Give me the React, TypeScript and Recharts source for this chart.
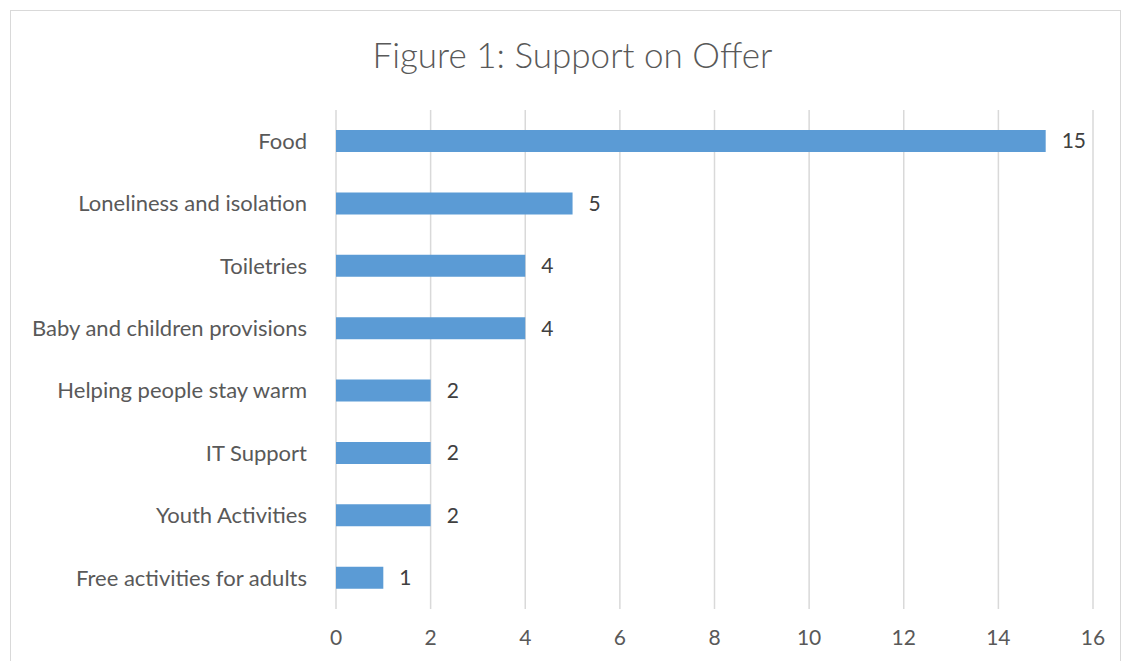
import { Bar, BarChart, CartesianGrid, LabelList, XAxis, YAxis } from 'recharts';

const categories = [
  'Food',
  'Loneliness and isolation',
  'Toiletries',
  'Baby and children provisions',
  'Helping people stay warm',
  'IT Support',
  'Youth Activities',
  'Free activities for adults',
];
const supportCounts = [15, 5, 4, 4, 2, 2, 2, 1];
const xTicks = [0, 2, 4, 6, 8, 10, 12, 14, 16];

const chartData = categories.map((name, i) => ({ name, count: supportCounts[i] }));

const FONT = 'Lato, "Liberation Sans", sans-serif';

export default function App() {
  return (
    <div
      style={{
        position: 'fixed',
        left: 10,
        top: 10,
        width: 1111,
        height: 660,
        border: '1px solid #d9d9d9',
        boxSizing: 'border-box',
        fontFamily: FONT,
        background: '#fff',
      }}
    >
      <div
        style={{
          position: 'absolute',
          top: 22,
          left: 0,
          width: '100%',
          textAlign: 'center',
          paddingLeft: 14,
          boxSizing: 'border-box',
          fontSize: 35,
          fontWeight: 300,
          color: '#595959',
        }}
      >
        Figure 1: Support on Offer
      </div>
      <div style={{ position: 'absolute', top: 0, left: 0 }}>
        <BarChart
          width={1109}
          height={648}
          data={chartData}
          layout="vertical"
          margin={{ top: 99, right: 27, left: 0, bottom: 0 }}
        >
          <CartesianGrid horizontal={false} stroke="#d9d9d9" strokeWidth={1.5} />
          <XAxis
            type="number"
            domain={[0, 16]}
            ticks={xTicks}
            height={50}
            axisLine={false}
            tickLine={false}
            tickMargin={15}
            tick={{ fontSize: 21, fill: '#595959', fontFamily: FONT }}
          />
          <YAxis
            dataKey="name"
            type="category"
            width={325}
            axisLine={false}
            tickLine={false}
            tickMargin={23}
            tick={{ fontSize: 22, fill: '#595959', fontFamily: FONT }}
          />
          <Bar dataKey="count" fill="#5b9bd5" barSize={22} isAnimationActive={false}>
            <LabelList
              dataKey="count"
              position="right"
              offset={16}
              style={{ fontSize: 21, fill: '#404040', fontFamily: FONT }}
            />
          </Bar>
        </BarChart>
      </div>
    </div>
  );
}
